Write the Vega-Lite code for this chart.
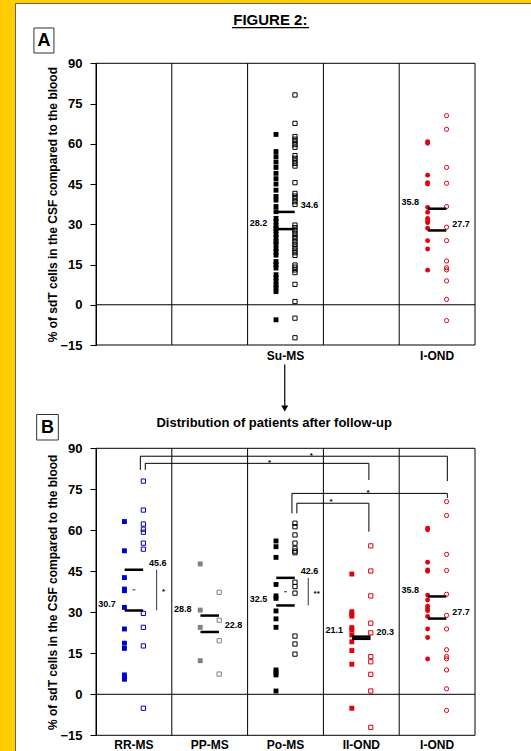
{
"$schema": "https://vega.github.io/schema/vega-lite/v6.json",
"width": 516, "height": 748,
"autosize": {"type": "none"},
"padding": {"left": 15, "top": 3, "right": 0, "bottom": 0},
"background": "#FFCC00",
"config": {"view": {"fill": "#FFFFFF", "stroke": "#666666", "strokeWidth": 1}, "font": "Liberation Sans",
 "axisY": {"grid": false, "tickSize": 6, "tickColor": "#000", "domainColor": "#000", "labelFontSize": 13, "labelFontWeight": "bold", "labelColor": "#000", "labelPadding": 8, "titleFontSize": 12, "titleFontWeight": "bold", "titleColor": "#000", "titlePadding": 0}},
"datasets": {
"colsA": [{"g": " "}, {"g": "  "}, {"g": "Su-MS"}, {"g": "   "}, {"g": "I-OND"}],
"colsB": [{"g": "RR-MS"}, {"g": "PP-MS"}, {"g": "Po-MS"}, {"g": "II-OND"}, {"g": "I-OND"}],
"hA": [{"g": " ", "g2": "I-OND", "v": 90}, {"g": " ", "g2": "I-OND", "v": 0}, {"g": " ", "g2": "I-OND", "v": -15}],
"hB": [{"g": "RR-MS", "g2": "I-OND", "v": 90}, {"g": "RR-MS", "g2": "I-OND", "v": 0}, {"g": "RR-MS", "g2": "I-OND", "v": -15}],
"ptsA": [
{"g":"Su-MS","s":"filled","v":63.5},{"g":"Su-MS","s":"filled","v":57.1},{"g":"Su-MS","s":"filled","v":55.2},{"g":"Su-MS","s":"filled","v":53.2},{"g":"Su-MS","s":"filled","v":51.2},{"g":"Su-MS","s":"filled","v":49.0},{"g":"Su-MS","s":"filled","v":47.0},{"g":"Su-MS","s":"filled","v":45.0},{"g":"Su-MS","s":"filled","v":42.7},{"g":"Su-MS","s":"filled","v":40.4},{"g":"Su-MS","s":"filled","v":39.0},{"g":"Su-MS","s":"filled","v":36.6},{"g":"Su-MS","s":"filled","v":34.7},{"g":"Su-MS","s":"filled","v":32.2},{"g":"Su-MS","s":"filled","v":31.0},{"g":"Su-MS","s":"filled","v":29.5},{"g":"Su-MS","s":"filled","v":28.4},{"g":"Su-MS","s":"filled","v":27.6},{"g":"Su-MS","s":"filled","v":26.2},{"g":"Su-MS","s":"filled","v":24.9},{"g":"Su-MS","s":"filled","v":23.5},{"g":"Su-MS","s":"filled","v":22.6},{"g":"Su-MS","s":"filled","v":21.0},{"g":"Su-MS","s":"filled","v":19.8},{"g":"Su-MS","s":"filled","v":18.5},{"g":"Su-MS","s":"filled","v":16.1},{"g":"Su-MS","s":"filled","v":15.0},{"g":"Su-MS","s":"filled","v":13.7},{"g":"Su-MS","s":"filled","v":11.2},{"g":"Su-MS","s":"filled","v":10.1},{"g":"Su-MS","s":"filled","v":8.7},{"g":"Su-MS","s":"filled","v":7.4},{"g":"Su-MS","s":"filled","v":6.3},{"g":"Su-MS","s":"filled","v":4.9},{"g":"Su-MS","s":"filled","v":-5.6},
{"g":"Su-MS","s":"open","v":78.2},{"g":"Su-MS","s":"open","v":67.6},{"g":"Su-MS","s":"open","v":62.7},{"g":"Su-MS","s":"open","v":61.7},{"g":"Su-MS","s":"open","v":60.7},{"g":"Su-MS","s":"open","v":59.7},{"g":"Su-MS","s":"open","v":58.7},{"g":"Su-MS","s":"open","v":55.6},{"g":"Su-MS","s":"open","v":54.6},{"g":"Su-MS","s":"open","v":53.6},{"g":"Su-MS","s":"open","v":52.7},{"g":"Su-MS","s":"open","v":51.7},{"g":"Su-MS","s":"open","v":45.5},{"g":"Su-MS","s":"open","v":41.5},{"g":"Su-MS","s":"open","v":40.5},{"g":"Su-MS","s":"open","v":39.5},{"g":"Su-MS","s":"open","v":38.4},{"g":"Su-MS","s":"open","v":37.4},{"g":"Su-MS","s":"open","v":29.7},{"g":"Su-MS","s":"open","v":28.7},{"g":"Su-MS","s":"open","v":27.6},{"g":"Su-MS","s":"open","v":26.6},{"g":"Su-MS","s":"open","v":25.6},{"g":"Su-MS","s":"open","v":24.6},{"g":"Su-MS","s":"open","v":23.5},{"g":"Su-MS","s":"open","v":22.5},{"g":"Su-MS","s":"open","v":21.5},{"g":"Su-MS","s":"open","v":20.4},{"g":"Su-MS","s":"open","v":19.4},{"g":"Su-MS","s":"open","v":18.4},{"g":"Su-MS","s":"open","v":14.8},{"g":"Su-MS","s":"open","v":14.0},{"g":"Su-MS","s":"open","v":13.0},{"g":"Su-MS","s":"open","v":12.0},{"g":"Su-MS","s":"open","v":7.6},{"g":"Su-MS","s":"open","v":1.2},{"g":"Su-MS","s":"open","v":-5.0},{"g":"Su-MS","s":"open","v":-12.3},
{"g":"I-OND","s":"filled","v":60.8},{"g":"I-OND","s":"filled","v":60.2},{"g":"I-OND","s":"filled","v":48.3},{"g":"I-OND","s":"filled","v":45.5},{"g":"I-OND","s":"filled","v":45.0},{"g":"I-OND","s":"filled","v":36.3},{"g":"I-OND","s":"filled","v":34.5},{"g":"I-OND","s":"filled","v":32.2},{"g":"I-OND","s":"filled","v":31.3},{"g":"I-OND","s":"filled","v":30.6},{"g":"I-OND","s":"filled","v":28.5},{"g":"I-OND","s":"filled","v":23.9},{"g":"I-OND","s":"filled","v":20.8},{"g":"I-OND","s":"filled","v":12.9},
{"g":"I-OND","s":"open","v":70.5},{"g":"I-OND","s":"open","v":65.4},{"g":"I-OND","s":"open","v":51.2},{"g":"I-OND","s":"open","v":45.3},{"g":"I-OND","s":"open","v":36.6},{"g":"I-OND","s":"open","v":28.9},{"g":"I-OND","s":"open","v":23.9},{"g":"I-OND","s":"open","v":16.3},{"g":"I-OND","s":"open","v":13.8},{"g":"I-OND","s":"open","v":13.0},{"g":"I-OND","s":"open","v":8.9},{"g":"I-OND","s":"open","v":2.0},{"g":"I-OND","s":"open","v":-5.9}
],
"ptsB": [
{"g":"RR-MS","s":"filled","v":63.2},{"g":"RR-MS","s":"filled","v":52.5},{"g":"RR-MS","s":"filled","v":42.7},{"g":"RR-MS","s":"filled","v":38.5},{"g":"RR-MS","s":"filled","v":37.9},{"g":"RR-MS","s":"filled","v":31.8},{"g":"RR-MS","s":"filled","v":23.9},{"g":"RR-MS","s":"filled","v":18.7},{"g":"RR-MS","s":"filled","v":16.8},{"g":"RR-MS","s":"filled","v":7.1},{"g":"RR-MS","s":"filled","v":6.2},{"g":"RR-MS","s":"filled","v":5.5},
{"g":"RR-MS","s":"open","v":78.0},{"g":"RR-MS","s":"open","v":67.4},{"g":"RR-MS","s":"open","v":62.3},{"g":"RR-MS","s":"open","v":60.4},{"g":"RR-MS","s":"open","v":59.3},{"g":"RR-MS","s":"open","v":55.3},{"g":"RR-MS","s":"open","v":53.1},{"g":"RR-MS","s":"open","v":29.6},{"g":"RR-MS","s":"open","v":24.5},{"g":"RR-MS","s":"open","v":17.7},{"g":"RR-MS","s":"open","v":-5.1},
{"g":"PP-MS","s":"filled","v":47.7},{"g":"PP-MS","s":"filled","v":30.8},{"g":"PP-MS","s":"filled","v":24.5},{"g":"PP-MS","s":"filled","v":12.3},
{"g":"PP-MS","s":"open","v":37.3},{"g":"PP-MS","s":"open","v":27.1},{"g":"PP-MS","s":"open","v":19.6},{"g":"PP-MS","s":"open","v":7.4},
{"g":"Po-MS","s":"filled","v":56.1},{"g":"Po-MS","s":"filled","v":54.0},{"g":"Po-MS","s":"filled","v":50.1},{"g":"Po-MS","s":"filled","v":40.2},{"g":"Po-MS","s":"filled","v":36.0},{"g":"Po-MS","s":"filled","v":35.1},{"g":"Po-MS","s":"filled","v":30.5},{"g":"Po-MS","s":"filled","v":27.6},{"g":"Po-MS","s":"filled","v":24.5},{"g":"Po-MS","s":"filled","v":8.9},{"g":"Po-MS","s":"filled","v":8.0},{"g":"Po-MS","s":"filled","v":7.1},{"g":"Po-MS","s":"filled","v":1.2},
{"g":"Po-MS","s":"open","v":62.6},{"g":"Po-MS","s":"open","v":61.3},{"g":"Po-MS","s":"open","v":58.3},{"g":"Po-MS","s":"open","v":55.3},{"g":"Po-MS","s":"open","v":53.4},{"g":"Po-MS","s":"open","v":52.4},{"g":"Po-MS","s":"open","v":51.8},{"g":"Po-MS","s":"open","v":41.0},{"g":"Po-MS","s":"open","v":39.4},{"g":"Po-MS","s":"open","v":37.0},{"g":"Po-MS","s":"open","v":21.3},{"g":"Po-MS","s":"open","v":18.4},{"g":"Po-MS","s":"open","v":14.7},
{"g":"II-OND","s":"filled","v":44.0},{"g":"II-OND","s":"filled","v":30.2},{"g":"II-OND","s":"filled","v":29.3},{"g":"II-OND","s":"filled","v":28.6},{"g":"II-OND","s":"filled","v":24.4},{"g":"II-OND","s":"filled","v":23.5},{"g":"II-OND","s":"filled","v":21.7},{"g":"II-OND","s":"filled","v":19.2},{"g":"II-OND","s":"filled","v":16.0},{"g":"II-OND","s":"filled","v":11.0},{"g":"II-OND","s":"filled","v":-5.1},
{"g":"II-OND","s":"open","v":54.3},{"g":"II-OND","s":"open","v":45.1},{"g":"II-OND","s":"open","v":36.0},{"g":"II-OND","s":"open","v":26.0},{"g":"II-OND","s":"open","v":22.5},{"g":"II-OND","s":"open","v":13.8},{"g":"II-OND","s":"open","v":11.9},{"g":"II-OND","s":"open","v":7.3},{"g":"II-OND","s":"open","v":1.2},{"g":"II-OND","s":"open","v":-12.1},
{"g":"I-OND","s":"filled","v":60.8},{"g":"I-OND","s":"filled","v":60.2},{"g":"I-OND","s":"filled","v":48.3},{"g":"I-OND","s":"filled","v":45.5},{"g":"I-OND","s":"filled","v":45.0},{"g":"I-OND","s":"filled","v":36.3},{"g":"I-OND","s":"filled","v":34.5},{"g":"I-OND","s":"filled","v":32.2},{"g":"I-OND","s":"filled","v":31.3},{"g":"I-OND","s":"filled","v":30.6},{"g":"I-OND","s":"filled","v":28.5},{"g":"I-OND","s":"filled","v":23.9},{"g":"I-OND","s":"filled","v":20.8},{"g":"I-OND","s":"filled","v":12.9},
{"g":"I-OND","s":"open","v":70.5},{"g":"I-OND","s":"open","v":65.4},{"g":"I-OND","s":"open","v":51.2},{"g":"I-OND","s":"open","v":45.3},{"g":"I-OND","s":"open","v":36.6},{"g":"I-OND","s":"open","v":28.9},{"g":"I-OND","s":"open","v":23.9},{"g":"I-OND","s":"open","v":16.3},{"g":"I-OND","s":"open","v":13.8},{"g":"I-OND","s":"open","v":13.0},{"g":"I-OND","s":"open","v":8.9},{"g":"I-OND","s":"open","v":2.0},{"g":"I-OND","s":"open","v":-5.9}
],
"meansA": [{"g":"Su-MS","s":"filled","v":28.2},{"g":"Su-MS","s":"open","v":34.6},{"g":"I-OND","s":"filled","v":35.8},{"g":"I-OND","s":"open","v":27.7}],
"meansB": [{"g":"RR-MS","s":"filled","v":30.7},{"g":"RR-MS","s":"open","v":45.6},{"g":"PP-MS","s":"filled","v":28.8},{"g":"PP-MS","s":"open","v":22.8},{"g":"Po-MS","s":"filled","v":32.5},{"g":"Po-MS","s":"open","v":42.6},{"g":"II-OND","s":"filled","v":21.1},{"g":"II-OND","s":"open","v":20.3},{"g":"I-OND","s":"filled","v":35.8},{"g":"I-OND","s":"open","v":27.7}],
"braceB": [{"g":"RR-MS","hi":45.6,"lo":30.7,"mid":38.2,"t":"*"},{"g":"Po-MS","hi":42.6,"lo":32.5,"mid":37.5,"t":"**"}],
"brkB": [{"tier":"outer","g":"RR-MS","g2":"I-OND","v":87.1,"lo1":82.1,"lo2":78.0},{"tier":"outer","g":"Po-MS","g2":"I-OND","v":73.5,"lo1":66.2,"lo2":71.8},{"tier":"inner","g":"RR-MS","g2":"II-OND","v":84.5,"lo1":82.1,"lo2":78.4},{"tier":"inner","g":"Po-MS","g2":"II-OND","v":69.9,"lo1":66.2,"lo2":59.5}],
"starsB": [{"id":1,"g":"Po-MS","v":87.9,"t":"*"},{"id":2,"g":"Po-MS","v":85.4,"t":"*"},{"id":3,"g":"II-OND","v":74.4,"t":"*"},{"id":4,"g":"II-OND","v":71.1,"t":"*"}]
},
"layer": [
{"layer": [
 {"data": {"name": "colsA"}, "mark": {"type": "rule", "color": "#000", "strokeWidth": 1},
  "encoding": {"x": {"field": "g", "type": "nominal", "bandPosition": 0, "scale": {"type": "band", "domain": [" ", "  ", "Su-MS", "   ", "I-OND"], "range": [81, 460], "paddingInner": 0, "paddingOuter": 0}, "axis": null},
   "y": {"datum": -15, "type": "quantitative", "scale": {"domain": [-15, 90], "range": [342, 60.3], "nice": false, "zero": false}, "axis": {"title": "% of sdT cells in the CSF compared to the blood", "orient": "left", "offset": -81, "values": [-15, 0, 15, 30, 45, 60, 75, 90]}}, "y2": {"datum": 90}}},
 {"data": {"values": [{"g": "I-OND"}]}, "mark": {"type": "rule", "color": "#000", "strokeWidth": 1},
  "encoding": {"x": {"field": "g", "type": "nominal", "bandPosition": 1, "scale": {"type": "band", "domain": [" ", "  ", "Su-MS", "   ", "I-OND"], "range": [81, 460], "paddingInner": 0, "paddingOuter": 0}, "axis": null},
   "y": {"datum": -15, "type": "quantitative", "scale": {"domain": [-15, 90], "range": [342, 60.3], "nice": false, "zero": false}, "axis": {"title": "% of sdT cells in the CSF compared to the blood", "orient": "left", "offset": -81, "values": [-15, 0, 15, 30, 45, 60, 75, 90]}}, "y2": {"datum": 90}}},
 {"data": {"name": "hA"}, "mark": {"type": "rule", "color": "#000", "strokeWidth": 1},
  "encoding": {"x": {"field": "g", "type": "nominal", "bandPosition": 0, "scale": {"type": "band", "domain": [" ", "  ", "Su-MS", "   ", "I-OND"], "range": [81, 460], "paddingInner": 0, "paddingOuter": 0}, "axis": null},
   "x2": {"field": "g2", "bandPosition": 1},
   "y": {"field": "v", "type": "quantitative", "scale": {"domain": [-15, 90], "range": [342, 60.3], "nice": false, "zero": false}, "axis": {"title": "% of sdT cells in the CSF compared to the blood", "orient": "left", "offset": -81, "values": [-15, 0, 15, 30, 45, 60, 75, 90]}}}},
 {"data": {"name": "ptsA"}, "transform": [{"filter": {"field": "s", "equal": "filled"}}],
  "mark": {"type": "point", "filled": true, "size": 24, "opacity": 1},
  "encoding": {"x": {"field": "g", "type": "nominal", "bandPosition": 0.375, "scale": {"type": "band", "domain": [" ", "  ", "Su-MS", "   ", "I-OND"], "range": [81, 460], "paddingInner": 0, "paddingOuter": 0}, "axis": null},
   "y": {"field": "v", "type": "quantitative", "scale": {"domain": [-15, 90], "range": [342, 60.3], "nice": false, "zero": false}, "axis": {"title": "% of sdT cells in the CSF compared to the blood", "orient": "left", "offset": -81, "values": [-15, 0, 15, 30, 45, 60, 75, 90]}},
   "color": {"field": "g", "type": "nominal", "scale": {"domain": ["Su-MS", "RR-MS", "PP-MS", "Po-MS", "II-OND", "I-OND"], "range": ["#000000", "#0000CC", "#808080", "#000000", "#E3000F", "#E3000F"]}, "legend": null},
   "shape": {"field": "g", "type": "nominal", "scale": {"domain": ["Su-MS", "RR-MS", "PP-MS", "Po-MS", "II-OND", "I-OND"], "range": ["square", "square", "square", "square", "square", "circle"]}, "legend": null}}},
 {"data": {"name": "ptsA"}, "transform": [{"filter": {"field": "s", "equal": "open"}}],
  "mark": {"type": "point", "filled": false, "size": 18, "strokeWidth": 1, "opacity": 1},
  "encoding": {"x": {"field": "g", "type": "nominal", "bandPosition": 0.625, "scale": {"type": "band", "domain": [" ", "  ", "Su-MS", "   ", "I-OND"], "range": [81, 460], "paddingInner": 0, "paddingOuter": 0}, "axis": null},
   "y": {"field": "v", "type": "quantitative", "scale": {"domain": [-15, 90], "range": [342, 60.3], "nice": false, "zero": false}, "axis": {"title": "% of sdT cells in the CSF compared to the blood", "orient": "left", "offset": -81, "values": [-15, 0, 15, 30, 45, 60, 75, 90]}},
   "color": {"field": "g", "type": "nominal", "scale": {"domain": ["Su-MS", "RR-MS", "PP-MS", "Po-MS", "II-OND", "I-OND"], "range": ["#000000", "#0000CC", "#808080", "#000000", "#E3000F", "#E3000F"]}, "legend": null},
   "shape": {"field": "g", "type": "nominal", "scale": {"domain": ["Su-MS", "RR-MS", "PP-MS", "Po-MS", "II-OND", "I-OND"], "range": ["square", "square", "square", "square", "square", "circle"]}, "legend": null}}},
 {"data": {"name": "meansA"}, "transform": [{"filter": {"field": "s", "equal": "filled"}}],
  "mark": {"type": "tick", "orient": "horizontal", "size": 18.5, "thickness": 2.5, "color": "#000", "opacity": 1},
  "encoding": {"x": {"field": "g", "type": "nominal", "bandPosition": 0.375, "scale": {"type": "band", "domain": [" ", "  ", "Su-MS", "   ", "I-OND"], "range": [81, 460], "paddingInner": 0, "paddingOuter": 0}, "axis": null},
   "y": {"field": "v", "type": "quantitative", "scale": {"domain": [-15, 90], "range": [342, 60.3], "nice": false, "zero": false}, "axis": {"title": "% of sdT cells in the CSF compared to the blood", "orient": "left", "offset": -81, "values": [-15, 0, 15, 30, 45, 60, 75, 90]}}}},
 {"data": {"name": "meansA"}, "transform": [{"filter": {"field": "s", "equal": "open"}}],
  "mark": {"type": "tick", "orient": "horizontal", "size": 18.5, "thickness": 2.5, "color": "#000", "opacity": 1},
  "encoding": {"x": {"field": "g", "type": "nominal", "bandPosition": 0.625, "scale": {"type": "band", "domain": [" ", "  ", "Su-MS", "   ", "I-OND"], "range": [81, 460], "paddingInner": 0, "paddingOuter": 0}, "axis": null},
   "y": {"field": "v", "type": "quantitative", "scale": {"domain": [-15, 90], "range": [342, 60.3], "nice": false, "zero": false}, "axis": {"title": "% of sdT cells in the CSF compared to the blood", "orient": "left", "offset": -81, "values": [-15, 0, 15, 30, 45, 60, 75, 90]}}}},
 {"data": {"name": "meansA"}, "transform": [{"filter": {"field": "s", "equal": "filled"}}],
  "mark": {"type": "text", "fontSize": 9, "fontWeight": "bold", "align": "right", "baseline": "bottom", "dy": -1.5, "color": "#000"},
  "encoding": {"x": {"field": "g", "type": "nominal", "bandPosition": 0.26, "scale": {"type": "band", "domain": [" ", "  ", "Su-MS", "   ", "I-OND"], "range": [81, 460], "paddingInner": 0, "paddingOuter": 0}, "axis": null},
   "y": {"field": "v", "type": "quantitative", "scale": {"domain": [-15, 90], "range": [342, 60.3], "nice": false, "zero": false}, "axis": {"title": "% of sdT cells in the CSF compared to the blood", "orient": "left", "offset": -81, "values": [-15, 0, 15, 30, 45, 60, 75, 90]}},
   "text": {"field": "v", "type": "quantitative", "format": ".1f"}}},
 {"data": {"name": "meansA"}, "transform": [{"filter": {"field": "s", "equal": "open"}}],
  "mark": {"type": "text", "fontSize": 9, "fontWeight": "bold", "align": "left", "baseline": "bottom", "dy": -1.5, "color": "#000"},
  "encoding": {"x": {"field": "g", "type": "nominal", "bandPosition": 0.70, "scale": {"type": "band", "domain": [" ", "  ", "Su-MS", "   ", "I-OND"], "range": [81, 460], "paddingInner": 0, "paddingOuter": 0}, "axis": null},
   "y": {"field": "v", "type": "quantitative", "scale": {"domain": [-15, 90], "range": [342, 60.3], "nice": false, "zero": false}, "axis": {"title": "% of sdT cells in the CSF compared to the blood", "orient": "left", "offset": -81, "values": [-15, 0, 15, 30, 45, 60, 75, 90]}},
   "text": {"field": "v", "type": "quantitative", "format": ".1f"}}},
 {"data": {"name": "colsA"}, "mark": {"type": "text", "fontSize": 12, "fontWeight": "bold", "baseline": "middle", "dy": 11, "color": "#000"},
  "encoding": {"x": {"field": "g", "type": "nominal", "scale": {"type": "band", "domain": [" ", "  ", "Su-MS", "   ", "I-OND"], "range": [81, 460], "paddingInner": 0, "paddingOuter": 0}, "axis": null},
   "y": {"datum": -15, "type": "quantitative", "scale": {"domain": [-15, 90], "range": [342, 60.3], "nice": false, "zero": false}, "axis": {"title": "% of sdT cells in the CSF compared to the blood", "orient": "left", "offset": -81, "values": [-15, 0, 15, 30, 45, 60, 75, 90]}},
   "text": {"field": "g"}}},
 {"data": {"values": [{"g": "Su-MS", "v": 106.1, "t": "FIGURE 2:"}]}, "mark": {"type": "text", "fontSize": 15, "fontWeight": "bold", "baseline": "middle", "color": "#000"},
  "encoding": {"x": {"field": "g", "type": "nominal", "bandPosition": 0.30, "scale": {"type": "band", "domain": [" ", "  ", "Su-MS", "   ", "I-OND"], "range": [81, 460], "paddingInner": 0, "paddingOuter": 0}, "axis": null},
   "y": {"field": "v", "type": "quantitative", "scale": {"domain": [-15, 90], "range": [342, 60.3], "nice": false, "zero": false}, "axis": {"title": "% of sdT cells in the CSF compared to the blood", "orient": "left", "offset": -81, "values": [-15, 0, 15, 30, 45, 60, 75, 90]}},
   "text": {"field": "t"}}},
 {"data": {"values": [{"g": "Su-MS", "v": 103.3}]}, "mark": {"type": "rule", "color": "#000", "strokeWidth": 1.3},
  "encoding": {"x": {"field": "g", "type": "nominal", "bandPosition": -0.205, "scale": {"type": "band", "domain": [" ", "  ", "Su-MS", "   ", "I-OND"], "range": [81, 460], "paddingInner": 0, "paddingOuter": 0}, "axis": null},
   "x2": {"field": "g", "bandPosition": 0.81},
   "y": {"field": "v", "type": "quantitative", "scale": {"domain": [-15, 90], "range": [342, 60.3], "nice": false, "zero": false}, "axis": {"title": "% of sdT cells in the CSF compared to the blood", "orient": "left", "offset": -81, "values": [-15, 0, 15, 30, 45, 60, 75, 90]}}}},
 {"data": {"values": [{"g": " ", "v": 98.5, "t": "A"}]}, "mark": {"type": "point", "shape": "M-0.8,-1H0.8V1H-0.8Z", "size": 625, "filled": false, "stroke": "#333333", "strokeWidth": 1, "opacity": 1},
  "encoding": {"x": {"field": "g", "type": "nominal", "bandPosition": -0.687, "scale": {"type": "band", "domain": [" ", "  ", "Su-MS", "   ", "I-OND"], "range": [81, 460], "paddingInner": 0, "paddingOuter": 0}, "axis": null},
   "y": {"field": "v", "type": "quantitative", "scale": {"domain": [-15, 90], "range": [342, 60.3], "nice": false, "zero": false}, "axis": {"title": "% of sdT cells in the CSF compared to the blood", "orient": "left", "offset": -81, "values": [-15, 0, 15, 30, 45, 60, 75, 90]}}}},
 {"data": {"values": [{"g": " ", "v": 98.5, "t": "A"}]}, "mark": {"type": "text", "fontSize": 18, "fontWeight": "bold", "baseline": "middle", "dy": 1, "color": "#000"},
  "encoding": {"x": {"field": "g", "type": "nominal", "bandPosition": -0.687, "scale": {"type": "band", "domain": [" ", "  ", "Su-MS", "   ", "I-OND"], "range": [81, 460], "paddingInner": 0, "paddingOuter": 0}, "axis": null},
   "y": {"field": "v", "type": "quantitative", "scale": {"domain": [-15, 90], "range": [342, 60.3], "nice": false, "zero": false}, "axis": {"title": "% of sdT cells in the CSF compared to the blood", "orient": "left", "offset": -81, "values": [-15, 0, 15, 30, 45, 60, 75, 90]}},
   "text": {"field": "t"}}},
 {"data": {"values": [{"g": "Su-MS", "v": -22.3, "v2": -37.8}]}, "mark": {"type": "rule", "color": "#000", "strokeWidth": 1.2},
  "encoding": {"x": {"field": "g", "type": "nominal", "bandPosition": 0.49, "scale": {"type": "band", "domain": [" ", "  ", "Su-MS", "   ", "I-OND"], "range": [81, 460], "paddingInner": 0, "paddingOuter": 0}, "axis": null},
   "y": {"field": "v", "type": "quantitative", "scale": {"domain": [-15, 90], "range": [342, 60.3], "nice": false, "zero": false}, "axis": {"title": "% of sdT cells in the CSF compared to the blood", "orient": "left", "offset": -81, "values": [-15, 0, 15, 30, 45, 60, 75, 90]}}, "y2": {"field": "v2"}}},
 {"data": {"values": [{"g": "Su-MS", "v": -38.7}]}, "mark": {"type": "point", "shape": "triangle-down", "size": 49, "filled": true, "color": "#000", "opacity": 1},
  "encoding": {"x": {"field": "g", "type": "nominal", "bandPosition": 0.49, "scale": {"type": "band", "domain": [" ", "  ", "Su-MS", "   ", "I-OND"], "range": [81, 460], "paddingInner": 0, "paddingOuter": 0}, "axis": null},
   "y": {"field": "v", "type": "quantitative", "scale": {"domain": [-15, 90], "range": [342, 60.3], "nice": false, "zero": false}, "axis": {"title": "% of sdT cells in the CSF compared to the blood", "orient": "left", "offset": -81, "values": [-15, 0, 15, 30, 45, 60, 75, 90]}}}}
]},
{"layer": [
 {"data": {"name": "colsB"}, "mark": {"type": "rule", "color": "#000", "strokeWidth": 1},
  "encoding": {"x": {"field": "g", "type": "nominal", "bandPosition": 0, "scale": {"type": "band", "domain": ["RR-MS", "PP-MS", "Po-MS", "II-OND", "I-OND"], "range": [81, 460], "paddingInner": 0, "paddingOuter": 0}, "axis": null},
   "y": {"datum": -15, "type": "quantitative", "scale": {"domain": [-15, 90], "range": [732.3, 445.3], "nice": false, "zero": false}, "axis": {"title": "% of sdT cells in the CSF compared to the blood", "orient": "left", "offset": -81, "values": [-15, 0, 15, 30, 45, 60, 75, 90]}}, "y2": {"datum": 90}}},
 {"data": {"values": [{"g": "I-OND"}]}, "mark": {"type": "rule", "color": "#000", "strokeWidth": 1},
  "encoding": {"x": {"field": "g", "type": "nominal", "bandPosition": 1, "scale": {"type": "band", "domain": ["RR-MS", "PP-MS", "Po-MS", "II-OND", "I-OND"], "range": [81, 460], "paddingInner": 0, "paddingOuter": 0}, "axis": null},
   "y": {"datum": -15, "type": "quantitative", "scale": {"domain": [-15, 90], "range": [732.3, 445.3], "nice": false, "zero": false}, "axis": {"title": "% of sdT cells in the CSF compared to the blood", "orient": "left", "offset": -81, "values": [-15, 0, 15, 30, 45, 60, 75, 90]}}, "y2": {"datum": 90}}},
 {"data": {"name": "hB"}, "mark": {"type": "rule", "color": "#000", "strokeWidth": 1},
  "encoding": {"x": {"field": "g", "type": "nominal", "bandPosition": 0, "scale": {"type": "band", "domain": ["RR-MS", "PP-MS", "Po-MS", "II-OND", "I-OND"], "range": [81, 460], "paddingInner": 0, "paddingOuter": 0}, "axis": null},
   "x2": {"field": "g2", "bandPosition": 1},
   "y": {"field": "v", "type": "quantitative", "scale": {"domain": [-15, 90], "range": [732.3, 445.3], "nice": false, "zero": false}, "axis": {"title": "% of sdT cells in the CSF compared to the blood", "orient": "left", "offset": -81, "values": [-15, 0, 15, 30, 45, 60, 75, 90]}}}},
 {"data": {"name": "ptsB"}, "transform": [{"filter": {"field": "s", "equal": "filled"}}],
  "mark": {"type": "point", "filled": true, "size": 24, "opacity": 1},
  "encoding": {"x": {"field": "g", "type": "nominal", "bandPosition": 0.375, "scale": {"type": "band", "domain": ["RR-MS", "PP-MS", "Po-MS", "II-OND", "I-OND"], "range": [81, 460], "paddingInner": 0, "paddingOuter": 0}, "axis": null},
   "y": {"field": "v", "type": "quantitative", "scale": {"domain": [-15, 90], "range": [732.3, 445.3], "nice": false, "zero": false}, "axis": {"title": "% of sdT cells in the CSF compared to the blood", "orient": "left", "offset": -81, "values": [-15, 0, 15, 30, 45, 60, 75, 90]}},
   "color": {"field": "g", "type": "nominal", "scale": {"domain": ["Su-MS", "RR-MS", "PP-MS", "Po-MS", "II-OND", "I-OND"], "range": ["#000000", "#0000CC", "#808080", "#000000", "#E3000F", "#E3000F"]}, "legend": null},
   "shape": {"field": "g", "type": "nominal", "scale": {"domain": ["Su-MS", "RR-MS", "PP-MS", "Po-MS", "II-OND", "I-OND"], "range": ["square", "square", "square", "square", "square", "circle"]}, "legend": null}}},
 {"data": {"name": "ptsB"}, "transform": [{"filter": {"field": "s", "equal": "open"}}],
  "mark": {"type": "point", "filled": false, "size": 18, "strokeWidth": 1, "opacity": 1},
  "encoding": {"x": {"field": "g", "type": "nominal", "bandPosition": 0.625, "scale": {"type": "band", "domain": ["RR-MS", "PP-MS", "Po-MS", "II-OND", "I-OND"], "range": [81, 460], "paddingInner": 0, "paddingOuter": 0}, "axis": null},
   "y": {"field": "v", "type": "quantitative", "scale": {"domain": [-15, 90], "range": [732.3, 445.3], "nice": false, "zero": false}, "axis": {"title": "% of sdT cells in the CSF compared to the blood", "orient": "left", "offset": -81, "values": [-15, 0, 15, 30, 45, 60, 75, 90]}},
   "color": {"field": "g", "type": "nominal", "scale": {"domain": ["Su-MS", "RR-MS", "PP-MS", "Po-MS", "II-OND", "I-OND"], "range": ["#000000", "#0000CC", "#808080", "#000000", "#E3000F", "#E3000F"]}, "legend": null},
   "shape": {"field": "g", "type": "nominal", "scale": {"domain": ["Su-MS", "RR-MS", "PP-MS", "Po-MS", "II-OND", "I-OND"], "range": ["square", "square", "square", "square", "square", "circle"]}, "legend": null}}},
 {"data": {"name": "meansB"}, "transform": [{"filter": {"field": "s", "equal": "filled"}}],
  "mark": {"type": "tick", "orient": "horizontal", "size": 18.5, "thickness": 2.5, "color": "#000", "opacity": 1},
  "encoding": {"x": {"field": "g", "type": "nominal", "bandPosition": 0.375, "scale": {"type": "band", "domain": ["RR-MS", "PP-MS", "Po-MS", "II-OND", "I-OND"], "range": [81, 460], "paddingInner": 0, "paddingOuter": 0}, "axis": null},
   "y": {"field": "v", "type": "quantitative", "scale": {"domain": [-15, 90], "range": [732.3, 445.3], "nice": false, "zero": false}, "axis": {"title": "% of sdT cells in the CSF compared to the blood", "orient": "left", "offset": -81, "values": [-15, 0, 15, 30, 45, 60, 75, 90]}}}},
 {"data": {"name": "meansB"}, "transform": [{"filter": {"field": "s", "equal": "open"}}],
  "mark": {"type": "tick", "orient": "horizontal", "size": 18.5, "thickness": 2.5, "color": "#000", "opacity": 1},
  "encoding": {"x": {"field": "g", "type": "nominal", "bandPosition": 0.625, "scale": {"type": "band", "domain": ["RR-MS", "PP-MS", "Po-MS", "II-OND", "I-OND"], "range": [81, 460], "paddingInner": 0, "paddingOuter": 0}, "axis": null},
   "y": {"field": "v", "type": "quantitative", "scale": {"domain": [-15, 90], "range": [732.3, 445.3], "nice": false, "zero": false}, "axis": {"title": "% of sdT cells in the CSF compared to the blood", "orient": "left", "offset": -81, "values": [-15, 0, 15, 30, 45, 60, 75, 90]}}}},
 {"data": {"name": "meansB"}, "transform": [{"filter": {"field": "s", "equal": "filled"}}],
  "mark": {"type": "text", "fontSize": 9, "fontWeight": "bold", "align": "right", "baseline": "bottom", "dy": -1.5, "color": "#000"},
  "encoding": {"x": {"field": "g", "type": "nominal", "bandPosition": 0.26, "scale": {"type": "band", "domain": ["RR-MS", "PP-MS", "Po-MS", "II-OND", "I-OND"], "range": [81, 460], "paddingInner": 0, "paddingOuter": 0}, "axis": null},
   "y": {"field": "v", "type": "quantitative", "scale": {"domain": [-15, 90], "range": [732.3, 445.3], "nice": false, "zero": false}, "axis": {"title": "% of sdT cells in the CSF compared to the blood", "orient": "left", "offset": -81, "values": [-15, 0, 15, 30, 45, 60, 75, 90]}},
   "text": {"field": "v", "type": "quantitative", "format": ".1f"}}},
 {"data": {"name": "meansB"}, "transform": [{"filter": {"field": "s", "equal": "open"}}],
  "mark": {"type": "text", "fontSize": 9, "fontWeight": "bold", "align": "left", "baseline": "bottom", "dy": -1.5, "color": "#000"},
  "encoding": {"x": {"field": "g", "type": "nominal", "bandPosition": 0.70, "scale": {"type": "band", "domain": ["RR-MS", "PP-MS", "Po-MS", "II-OND", "I-OND"], "range": [81, 460], "paddingInner": 0, "paddingOuter": 0}, "axis": null},
   "y": {"field": "v", "type": "quantitative", "scale": {"domain": [-15, 90], "range": [732.3, 445.3], "nice": false, "zero": false}, "axis": {"title": "% of sdT cells in the CSF compared to the blood", "orient": "left", "offset": -81, "values": [-15, 0, 15, 30, 45, 60, 75, 90]}},
   "text": {"field": "v", "type": "quantitative", "format": ".1f"}}},
 {"data": {"name": "braceB"}, "mark": {"type": "rule", "color": "#000", "strokeWidth": 0.8},
  "encoding": {"x": {"field": "g", "type": "nominal", "bandPosition": 0.80, "scale": {"type": "band", "domain": ["RR-MS", "PP-MS", "Po-MS", "II-OND", "I-OND"], "range": [81, 460], "paddingInner": 0, "paddingOuter": 0}, "axis": null},
   "y": {"field": "lo", "type": "quantitative", "scale": {"domain": [-15, 90], "range": [732.3, 445.3], "nice": false, "zero": false}, "axis": {"title": "% of sdT cells in the CSF compared to the blood", "orient": "left", "offset": -81, "values": [-15, 0, 15, 30, 45, 60, 75, 90]}}, "y2": {"field": "hi"}}},
 {"data": {"name": "braceB"}, "mark": {"type": "tick", "orient": "horizontal", "size": 3, "thickness": 0.8, "color": "#000", "opacity": 1},
  "encoding": {"x": {"field": "g", "type": "nominal", "bandPosition": 0.78, "scale": {"type": "band", "domain": ["RR-MS", "PP-MS", "Po-MS", "II-OND", "I-OND"], "range": [81, 460], "paddingInner": 0, "paddingOuter": 0}, "axis": null},
   "y": {"field": "hi", "type": "quantitative", "scale": {"domain": [-15, 90], "range": [732.3, 445.3], "nice": false, "zero": false}, "axis": {"title": "% of sdT cells in the CSF compared to the blood", "orient": "left", "offset": -81, "values": [-15, 0, 15, 30, 45, 60, 75, 90]}}}},
 {"data": {"name": "braceB"}, "mark": {"type": "tick", "orient": "horizontal", "size": 3, "thickness": 0.8, "color": "#000", "opacity": 1},
  "encoding": {"x": {"field": "g", "type": "nominal", "bandPosition": 0.78, "scale": {"type": "band", "domain": ["RR-MS", "PP-MS", "Po-MS", "II-OND", "I-OND"], "range": [81, 460], "paddingInner": 0, "paddingOuter": 0}, "axis": null},
   "y": {"field": "lo", "type": "quantitative", "scale": {"domain": [-15, 90], "range": [732.3, 445.3], "nice": false, "zero": false}, "axis": {"title": "% of sdT cells in the CSF compared to the blood", "orient": "left", "offset": -81, "values": [-15, 0, 15, 30, 45, 60, 75, 90]}}}},
 {"data": {"name": "braceB"}, "mark": {"type": "tick", "orient": "horizontal", "size": 3, "thickness": 0.8, "color": "#000", "opacity": 1},
  "encoding": {"x": {"field": "g", "type": "nominal", "bandPosition": 0.82, "scale": {"type": "band", "domain": ["RR-MS", "PP-MS", "Po-MS", "II-OND", "I-OND"], "range": [81, 460], "paddingInner": 0, "paddingOuter": 0}, "axis": null},
   "y": {"field": "mid", "type": "quantitative", "scale": {"domain": [-15, 90], "range": [732.3, 445.3], "nice": false, "zero": false}, "axis": {"title": "% of sdT cells in the CSF compared to the blood", "orient": "left", "offset": -81, "values": [-15, 0, 15, 30, 45, 60, 75, 90]}}}},
 {"data": {"name": "braceB"}, "mark": {"type": "text", "fontSize": 8, "fontWeight": "bold", "align": "left", "baseline": "middle", "dy": 2, "color": "#000"},
  "encoding": {"x": {"field": "g", "type": "nominal", "bandPosition": 0.87, "scale": {"type": "band", "domain": ["RR-MS", "PP-MS", "Po-MS", "II-OND", "I-OND"], "range": [81, 460], "paddingInner": 0, "paddingOuter": 0}, "axis": null},
   "y": {"field": "mid", "type": "quantitative", "scale": {"domain": [-15, 90], "range": [732.3, 445.3], "nice": false, "zero": false}, "axis": {"title": "% of sdT cells in the CSF compared to the blood", "orient": "left", "offset": -81, "values": [-15, 0, 15, 30, 45, 60, 75, 90]}},
   "text": {"field": "t"}}},
 {"data": {"name": "brkB"}, "transform": [{"filter": {"field": "tier", "equal": "outer"}}], "mark": {"type": "rule", "color": "#000", "strokeWidth": 1},
  "encoding": {"x": {"field": "g", "type": "nominal", "bandPosition": 0.585, "scale": {"type": "band", "domain": ["RR-MS", "PP-MS", "Po-MS", "II-OND", "I-OND"], "range": [81, 460], "paddingInner": 0, "paddingOuter": 0}, "axis": null},
   "x2": {"field": "g2", "bandPosition": 0.635},
   "y": {"field": "v", "type": "quantitative", "scale": {"domain": [-15, 90], "range": [732.3, 445.3], "nice": false, "zero": false}, "axis": {"title": "% of sdT cells in the CSF compared to the blood", "orient": "left", "offset": -81, "values": [-15, 0, 15, 30, 45, 60, 75, 90]}}}},
 {"data": {"name": "brkB"}, "transform": [{"filter": {"field": "tier", "equal": "outer"}}], "mark": {"type": "rule", "color": "#000", "strokeWidth": 1},
  "encoding": {"x": {"field": "g", "type": "nominal", "bandPosition": 0.585, "scale": {"type": "band", "domain": ["RR-MS", "PP-MS", "Po-MS", "II-OND", "I-OND"], "range": [81, 460], "paddingInner": 0, "paddingOuter": 0}, "axis": null},
   "y": {"field": "lo1", "type": "quantitative", "scale": {"domain": [-15, 90], "range": [732.3, 445.3], "nice": false, "zero": false}, "axis": {"title": "% of sdT cells in the CSF compared to the blood", "orient": "left", "offset": -81, "values": [-15, 0, 15, 30, 45, 60, 75, 90]}}, "y2": {"field": "v"}}},
 {"data": {"name": "brkB"}, "transform": [{"filter": {"field": "tier", "equal": "outer"}}], "mark": {"type": "rule", "color": "#000", "strokeWidth": 1},
  "encoding": {"x": {"field": "g2", "type": "nominal", "bandPosition": 0.635, "scale": {"type": "band", "domain": ["RR-MS", "PP-MS", "Po-MS", "II-OND", "I-OND"], "range": [81, 460], "paddingInner": 0, "paddingOuter": 0}, "axis": null},
   "y": {"field": "lo2", "type": "quantitative", "scale": {"domain": [-15, 90], "range": [732.3, 445.3], "nice": false, "zero": false}, "axis": {"title": "% of sdT cells in the CSF compared to the blood", "orient": "left", "offset": -81, "values": [-15, 0, 15, 30, 45, 60, 75, 90]}}, "y2": {"field": "v"}}},
 {"data": {"name": "brkB"}, "transform": [{"filter": {"field": "tier", "equal": "inner"}}], "mark": {"type": "rule", "color": "#000", "strokeWidth": 1},
  "encoding": {"x": {"field": "g", "type": "nominal", "bandPosition": 0.65, "scale": {"type": "band", "domain": ["RR-MS", "PP-MS", "Po-MS", "II-OND", "I-OND"], "range": [81, 460], "paddingInner": 0, "paddingOuter": 0}, "axis": null},
   "x2": {"field": "g2", "bandPosition": 0.60},
   "y": {"field": "v", "type": "quantitative", "scale": {"domain": [-15, 90], "range": [732.3, 445.3], "nice": false, "zero": false}, "axis": {"title": "% of sdT cells in the CSF compared to the blood", "orient": "left", "offset": -81, "values": [-15, 0, 15, 30, 45, 60, 75, 90]}}}},
 {"data": {"name": "brkB"}, "transform": [{"filter": {"field": "tier", "equal": "inner"}}], "mark": {"type": "rule", "color": "#000", "strokeWidth": 1},
  "encoding": {"x": {"field": "g", "type": "nominal", "bandPosition": 0.65, "scale": {"type": "band", "domain": ["RR-MS", "PP-MS", "Po-MS", "II-OND", "I-OND"], "range": [81, 460], "paddingInner": 0, "paddingOuter": 0}, "axis": null},
   "y": {"field": "lo1", "type": "quantitative", "scale": {"domain": [-15, 90], "range": [732.3, 445.3], "nice": false, "zero": false}, "axis": {"title": "% of sdT cells in the CSF compared to the blood", "orient": "left", "offset": -81, "values": [-15, 0, 15, 30, 45, 60, 75, 90]}}, "y2": {"field": "v"}}},
 {"data": {"name": "brkB"}, "transform": [{"filter": {"field": "tier", "equal": "inner"}}], "mark": {"type": "rule", "color": "#000", "strokeWidth": 1},
  "encoding": {"x": {"field": "g2", "type": "nominal", "bandPosition": 0.60, "scale": {"type": "band", "domain": ["RR-MS", "PP-MS", "Po-MS", "II-OND", "I-OND"], "range": [81, 460], "paddingInner": 0, "paddingOuter": 0}, "axis": null},
   "y": {"field": "lo2", "type": "quantitative", "scale": {"domain": [-15, 90], "range": [732.3, 445.3], "nice": false, "zero": false}, "axis": {"title": "% of sdT cells in the CSF compared to the blood", "orient": "left", "offset": -81, "values": [-15, 0, 15, 30, 45, 60, 75, 90]}}, "y2": {"field": "v"}}},
 {"data": {"name": "starsB"}, "transform": [{"filter": {"field": "id", "equal": 1}}], "mark": {"type": "text", "fontSize": 8, "fontWeight": "bold", "baseline": "middle", "dy": 2, "color": "#000"},
  "encoding": {"x": {"field": "g", "type": "nominal", "bandPosition": 0.84, "scale": {"type": "band", "domain": ["RR-MS", "PP-MS", "Po-MS", "II-OND", "I-OND"], "range": [81, 460], "paddingInner": 0, "paddingOuter": 0}, "axis": null},
   "y": {"field": "v", "type": "quantitative", "scale": {"domain": [-15, 90], "range": [732.3, 445.3], "nice": false, "zero": false}, "axis": {"title": "% of sdT cells in the CSF compared to the blood", "orient": "left", "offset": -81, "values": [-15, 0, 15, 30, 45, 60, 75, 90]}}, "text": {"field": "t"}}},
 {"data": {"name": "starsB"}, "transform": [{"filter": {"field": "id", "equal": 2}}], "mark": {"type": "text", "fontSize": 8, "fontWeight": "bold", "baseline": "middle", "dy": 2, "color": "#000"},
  "encoding": {"x": {"field": "g", "type": "nominal", "bandPosition": 0.29, "scale": {"type": "band", "domain": ["RR-MS", "PP-MS", "Po-MS", "II-OND", "I-OND"], "range": [81, 460], "paddingInner": 0, "paddingOuter": 0}, "axis": null},
   "y": {"field": "v", "type": "quantitative", "scale": {"domain": [-15, 90], "range": [732.3, 445.3], "nice": false, "zero": false}, "axis": {"title": "% of sdT cells in the CSF compared to the blood", "orient": "left", "offset": -81, "values": [-15, 0, 15, 30, 45, 60, 75, 90]}}, "text": {"field": "t"}}},
 {"data": {"name": "starsB"}, "transform": [{"filter": {"field": "id", "equal": 3}}], "mark": {"type": "text", "fontSize": 8, "fontWeight": "bold", "baseline": "middle", "dy": 2, "color": "#000"},
  "encoding": {"x": {"field": "g", "type": "nominal", "bandPosition": 0.59, "scale": {"type": "band", "domain": ["RR-MS", "PP-MS", "Po-MS", "II-OND", "I-OND"], "range": [81, 460], "paddingInner": 0, "paddingOuter": 0}, "axis": null},
   "y": {"field": "v", "type": "quantitative", "scale": {"domain": [-15, 90], "range": [732.3, 445.3], "nice": false, "zero": false}, "axis": {"title": "% of sdT cells in the CSF compared to the blood", "orient": "left", "offset": -81, "values": [-15, 0, 15, 30, 45, 60, 75, 90]}}, "text": {"field": "t"}}},
 {"data": {"name": "starsB"}, "transform": [{"filter": {"field": "id", "equal": 4}}], "mark": {"type": "text", "fontSize": 8, "fontWeight": "bold", "baseline": "middle", "dy": 2, "color": "#000"},
  "encoding": {"x": {"field": "g", "type": "nominal", "bandPosition": 0.10, "scale": {"type": "band", "domain": ["RR-MS", "PP-MS", "Po-MS", "II-OND", "I-OND"], "range": [81, 460], "paddingInner": 0, "paddingOuter": 0}, "axis": null},
   "y": {"field": "v", "type": "quantitative", "scale": {"domain": [-15, 90], "range": [732.3, 445.3], "nice": false, "zero": false}, "axis": {"title": "% of sdT cells in the CSF compared to the blood", "orient": "left", "offset": -81, "values": [-15, 0, 15, 30, 45, 60, 75, 90]}}, "text": {"field": "t"}}},
 {"data": {"name": "colsB"}, "mark": {"type": "text", "fontSize": 12, "fontWeight": "bold", "baseline": "middle", "dy": 9.5, "color": "#000"},
  "encoding": {"x": {"field": "g", "type": "nominal", "scale": {"type": "band", "domain": ["RR-MS", "PP-MS", "Po-MS", "II-OND", "I-OND"], "range": [81, 460], "paddingInner": 0, "paddingOuter": 0}, "axis": null},
   "y": {"datum": -15, "type": "quantitative", "scale": {"domain": [-15, 90], "range": [732.3, 445.3], "nice": false, "zero": false}, "axis": {"title": "% of sdT cells in the CSF compared to the blood", "orient": "left", "offset": -81, "values": [-15, 0, 15, 30, 45, 60, 75, 90]}},
   "text": {"field": "g"}}},
 {"data": {"values": [{"g": "RR-MS", "v": 97.7, "t": "B"}]}, "mark": {"type": "point", "shape": "M-0.85,-1H0.85V1H-0.85Z", "size": 650, "filled": false, "stroke": "#333333", "strokeWidth": 1, "opacity": 1},
  "encoding": {"x": {"field": "g", "type": "nominal", "bandPosition": -0.64, "scale": {"type": "band", "domain": ["RR-MS", "PP-MS", "Po-MS", "II-OND", "I-OND"], "range": [81, 460], "paddingInner": 0, "paddingOuter": 0}, "axis": null},
   "y": {"field": "v", "type": "quantitative", "scale": {"domain": [-15, 90], "range": [732.3, 445.3], "nice": false, "zero": false}, "axis": {"title": "% of sdT cells in the CSF compared to the blood", "orient": "left", "offset": -81, "values": [-15, 0, 15, 30, 45, 60, 75, 90]}}}},
 {"data": {"values": [{"g": "RR-MS", "v": 97.7, "t": "B"}]}, "mark": {"type": "text", "fontSize": 18, "fontWeight": "bold", "baseline": "middle", "dy": 1, "color": "#000"},
  "encoding": {"x": {"field": "g", "type": "nominal", "bandPosition": -0.64, "scale": {"type": "band", "domain": ["RR-MS", "PP-MS", "Po-MS", "II-OND", "I-OND"], "range": [81, 460], "paddingInner": 0, "paddingOuter": 0}, "axis": null},
   "y": {"field": "v", "type": "quantitative", "scale": {"domain": [-15, 90], "range": [732.3, 445.3], "nice": false, "zero": false}, "axis": {"title": "% of sdT cells in the CSF compared to the blood", "orient": "left", "offset": -81, "values": [-15, 0, 15, 30, 45, 60, 75, 90]}},
   "text": {"field": "t"}}},
 {"data": {"values": [{"g": "Po-MS", "v": 99.2, "t": "Distribution of patients after follow-up"}]}, "mark": {"type": "text", "fontSize": 13, "fontWeight": "bold", "baseline": "middle", "color": "#000"},
  "encoding": {"x": {"field": "g", "type": "nominal", "bandPosition": 0.35, "scale": {"type": "band", "domain": ["RR-MS", "PP-MS", "Po-MS", "II-OND", "I-OND"], "range": [81, 460], "paddingInner": 0, "paddingOuter": 0}, "axis": null},
   "y": {"field": "v", "type": "quantitative", "scale": {"domain": [-15, 90], "range": [732.3, 445.3], "nice": false, "zero": false}, "axis": {"title": "% of sdT cells in the CSF compared to the blood", "orient": "left", "offset": -81, "values": [-15, 0, 15, 30, 45, 60, 75, 90]}},
   "text": {"field": "t"}}}
]}
],
"resolve": {"scale": {"x": "independent", "y": "independent"}, "axis": {"x": "independent", "y": "independent"}}
}
